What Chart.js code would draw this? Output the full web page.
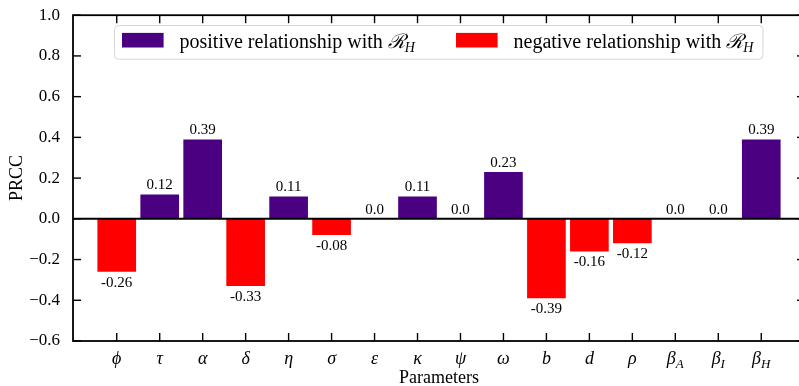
<!DOCTYPE html>
<html>
<head>
<meta charset="utf-8">
<script src="https://cdn.jsdelivr.net/npm/chart.js@4.4.1/dist/chart.umd.min.js"></script>
<style>
  html, body { margin: 0; padding: 0; overflow: hidden; background: #fff; }
</style>
</head>
<body>
<canvas id="prccChart" width="812" height="386"></canvas>
<script>
const params = ['ϕ', 'τ', 'α', 'δ', 'η', 'σ', 'ε', 'κ', 'ψ', 'ω', 'b', 'd', 'ρ', 'β', 'β', 'β']
const paramSubs = ['', '', '', '', '', '', '', '', '', '', '', '', '', 'A', 'I', 'H']
const prcc = [-0.26, 0.12, 0.39, -0.33, 0.11, -0.08, 0.0, 0.11, 0.0, 0.23, -0.39, -0.16, -0.12, 0.0, 0.0, 0.39]
const yTicks = [-0.6, -0.4, -0.2, 0.0, 0.2, 0.4, 0.6, 0.8, 1.0]
const legendLabels = ['positive relationship with ', 'negative relationship with ']
const legendColors = ['#4b0082', '#ff0000']

const serif = '"Liberation Serif", "Times New Roman", serif'
Chart.defaults.font.family = serif
Chart.defaults.color = '#000'

const line = (ctx, x1, y1, x2, y2) => {
  ctx.beginPath()
  ctx.moveTo(x1, y1)
  ctx.lineTo(x2, y2)
  ctx.stroke()
}

// text with an italic subscript, e.g. beta_A or R_H
const drawSub = (ctx, main, sub, x, y, size, mainFont) => {
  ctx.font = mainFont + ' ' + size + 'px ' + serif
  ctx.fillText(main, x, y)
  const w = ctx.measureText(main).width
  if (!sub) return w
  ctx.font = 'italic ' + Math.round(size * 0.7) + 'px ' + serif
  ctx.fillText(sub, x + w, y + 4)
  return w + ctx.measureText(sub).width
}

const measureSub = (ctx, main, sub, size, mainFont) => {
  ctx.font = mainFont + ' ' + size + 'px ' + serif
  let w = ctx.measureText(main).width
  if (sub) {
    ctx.font = 'italic ' + Math.round(size * 0.7) + 'px ' + serif
    w += ctx.measureText(sub).width
  }
  return w
}

const framePlugin = {
  id: 'frame',
  afterDatasetsDraw(chart) {
    const { ctx, chartArea: a, scales: { y } } = chart
    ctx.save()
    ctx.strokeStyle = '#000'
    ctx.lineWidth = 2
    const y0 = y.getPixelForValue(0)
    line(ctx, a.left, y0, a.right, y0)

    // value labels on the bars
    ctx.fillStyle = '#000'
    ctx.textAlign = 'center'
    ctx.textBaseline = 'alphabetic'
    ctx.font = '15px ' + serif
    chart.getDatasetMeta(0).data.forEach((bar, i) => {
      const v = prcc[i]
      const txt = v === 0 ? '0.0' : String(v)
      if (v >= 0) ctx.fillText(txt, bar.x, bar.y - 5)
      else ctx.fillText(txt, bar.x, bar.y + 15)
    })
    ctx.restore()
  },
  afterDraw(chart) {
    const { ctx, chartArea: a, scales: { x, y } } = chart
    ctx.save()
    ctx.strokeStyle = '#000'
    ctx.lineWidth = 1.8
    ctx.strokeRect(a.left, a.top, a.right - a.left, a.bottom - a.top)

    // inward ticks on all four sides
    ctx.lineWidth = 1.4
    const tl = 8
    yTicks.forEach(v => {
      const py = y.getPixelForValue(v)
      line(ctx, a.left, py, a.left + tl, py)
      line(ctx, a.right, py, a.right - tl, py)
    })
    params.forEach((p, i) => {
      const px = x.getPixelForValue(i)
      line(ctx, px, a.bottom, px, a.bottom - tl)
      line(ctx, px, a.top, px, a.top + tl)
    })

    // category labels
    ctx.fillStyle = '#000'
    ctx.textAlign = 'left'
    ctx.textBaseline = 'alphabetic'
    params.forEach((p, i) => {
      const px = x.getPixelForValue(i)
      const w = measureSub(ctx, p, paramSubs[i], 18, 'italic')
      drawSub(ctx, p, paramSubs[i], px - w / 2, a.bottom + 23, 18, 'italic')
    })

    // legend
    const lx = a.left + 41.5
    const ly = a.top + 10.3
    const lw = 648.5
    const lh = 33.7
    ctx.fillStyle = 'rgba(255,255,255,0.85)'
    ctx.strokeStyle = '#d6d6d6'
    ctx.lineWidth = 1
    ctx.beginPath()
    ctx.roundRect(lx, ly, lw, lh, 4)
    ctx.fill()
    ctx.stroke()
    const items = [lx + 7.5, lx + 341.5]
    legendLabels.forEach((txt, i) => {
      const sx = items[i]
      ctx.fillStyle = legendColors[i]
      ctx.fillRect(sx, ly + 7.4, 41.6, 14.6)
      ctx.fillStyle = '#000'
      let tx = sx + 57.5
      ctx.font = '20px ' + serif
      ctx.fillText(txt, tx, ly + 22.7)
      tx += ctx.measureText(txt).width
      drawSub(ctx, 'ℛ', 'H', tx, ly + 22.7, 20, 'italic')
    })
    ctx.restore()
  }
}

new Chart(document.getElementById('prccChart'), {
  type: 'bar',
  data: {
    datasets: [
      {
        label: 'PRCC',
        data: prcc.map((v, i) => ({ x: i, y: v })),
        backgroundColor: prcc.map(v => (v >= 0 ? legendColors[0] : legendColors[1])),
        borderWidth: 0,
        barPercentage: 0.9,
        categoryPercentage: 1.0,
      },
    ],
  },
  options: {
    responsive: false,
    animation: false,
    devicePixelRatio: 1,
    layout: {
      padding: { left: 0, right: 7, top: 12, bottom: 0 },
    },
    plugins: {
      legend: { display: false },
      tooltip: { enabled: false },
    },
    scales: {
      x: {
        type: 'linear',
        offset: false,
        min: -1.018,
        max: 16.018,
        grid: { display: false, offset: false },
        border: { display: false },
        ticks: { display: false },
        title: {
          display: true,
          text: 'Parameters',
          font: { size: 18 },
          padding: { top: 0, bottom: -3 },
        },
        afterFit: s => {
          s.height = 45
        },
      },
      y: {
        min: -0.6,
        max: 1.0,
        grid: { display: false },
        border: { display: false },
        afterBuildTicks: s => {
          s.ticks = yTicks.map(v => ({ value: v }))
        },
        ticks: {
          padding: 5,
          font: { size: 17 },
          callback: v => (Math.abs(v) < 1e-9 ? '0.0' : v.toFixed(1).replace('-', '\u2212')),
        },
        title: {
          display: true,
          text: 'PRCC',
          font: { size: 18 },
          padding: { top: 6, bottom: 0 },
        },
        afterFit: s => {
          s.width = 73
        },
      },
    },
  },
  plugins: [framePlugin],
})
</script>
</body>
</html>
